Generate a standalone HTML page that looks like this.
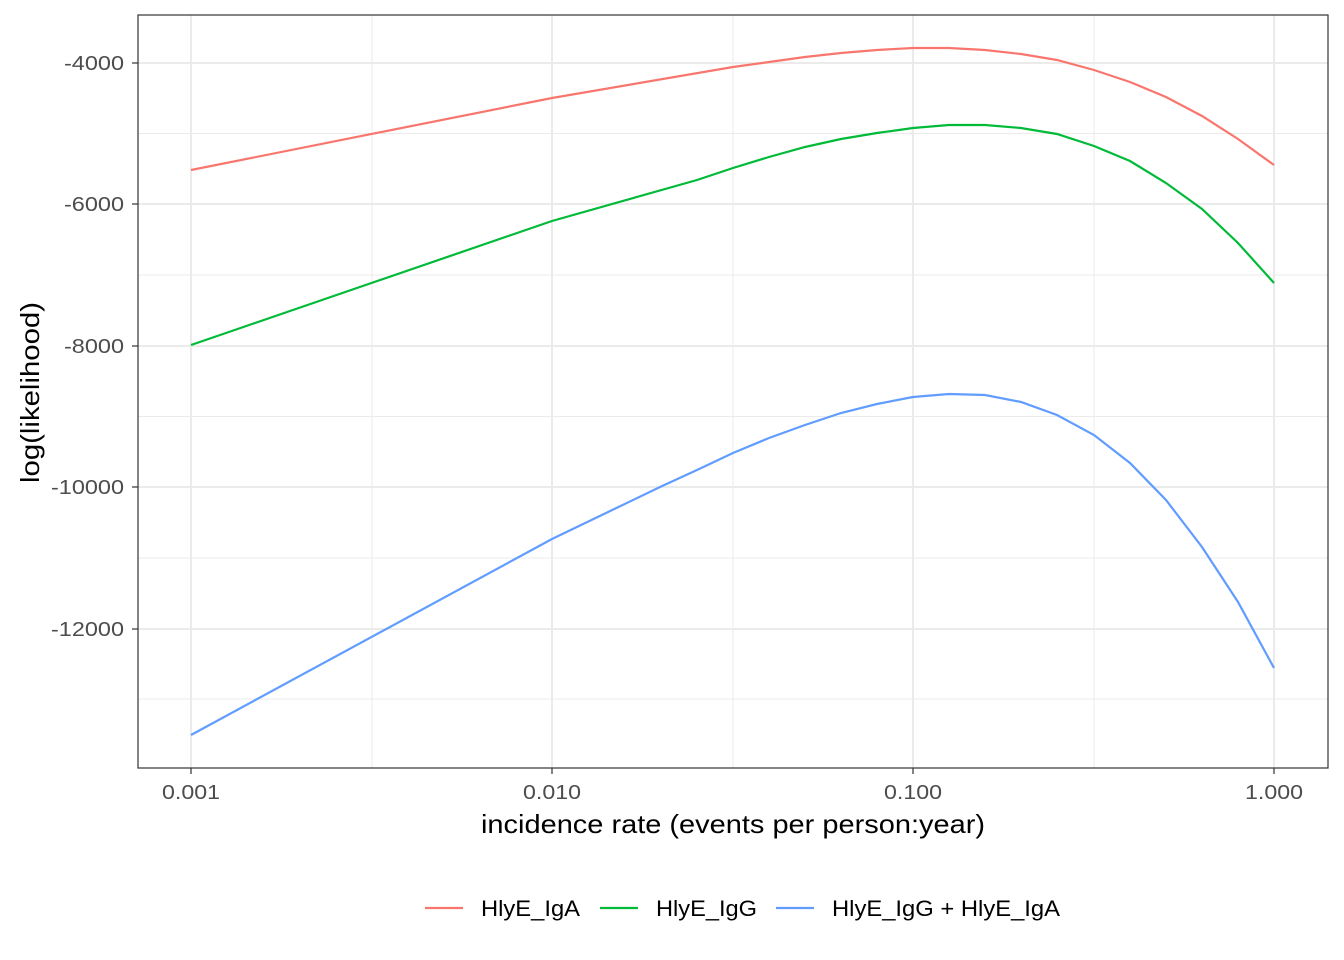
<!DOCTYPE html>
<html><head><style>body{margin:0;background:#fff}svg{display:block}</style></head><body>
<svg width="1344" height="960" xmlns="http://www.w3.org/2000/svg" font-family="Liberation Sans, sans-serif">
<rect width="1344" height="960" fill="#fff"/>
<g stroke="#ebebeb" stroke-width="1">
<line x1="138" x2="1328" y1="133.5" y2="133.5"/><line x1="138" x2="1328" y1="275" y2="275"/><line x1="138" x2="1328" y1="416.5" y2="416.5"/><line x1="138" x2="1328" y1="558" y2="558"/><line x1="138" x2="1328" y1="699" y2="699"/>
<line y1="15" y2="768" x1="372" x2="372"/><line y1="15" y2="768" x1="733" x2="733"/><line y1="15" y2="768" x1="1094" x2="1094"/>
</g>
<g stroke="#ebebeb" stroke-width="2">
<line x1="138" x2="1328" y1="63" y2="63"/><line x1="138" x2="1328" y1="204" y2="204"/><line x1="138" x2="1328" y1="346" y2="346"/><line x1="138" x2="1328" y1="487" y2="487"/><line x1="138" x2="1328" y1="629" y2="629"/>
<line y1="15" y2="768" x1="191" x2="191"/><line y1="15" y2="768" x1="552" x2="552"/><line y1="15" y2="768" x1="913" x2="913"/><line y1="15" y2="768" x1="1274" x2="1274"/>
</g>
<g fill="none" stroke-width="2.2">
<polyline stroke="#F8766D" points="191,170 552,98 733,67 769,62 805,57 841,53 877,50 913,48 949,48 985,50 1021,54 1057,60 1094,70 1130,82 1166,97 1202,116 1238,139 1274,165"/>
<polyline stroke="#00BA38" points="191,345 552,221 697,180 733,168 769,157 805,147 841,139 877,133 913,128 949,125 985,125 1021,128 1057,134 1094,146 1130,161 1166,183 1202,209 1238,243 1274,283"/>
<polyline stroke="#619CFF" points="191,735 552,539 660,487 697,470 733,453 769,438 805,425 841,413 877,404 913,397 949,394 985,395 1021,402 1057,415 1094,435 1130,463 1166,500 1202,547 1238,602 1274,668"/>
</g>
<rect x="138" y="15" width="1190" height="753" fill="none" stroke="#333" stroke-width="1.2"/>
<g stroke="#333" stroke-width="1.2">
<line x1="132" x2="138" y1="63" y2="63"/><line x1="132" x2="138" y1="204" y2="204"/><line x1="132" x2="138" y1="346" y2="346"/><line x1="132" x2="138" y1="487" y2="487"/><line x1="132" x2="138" y1="629" y2="629"/>
<line y1="768" y2="774" x1="191" x2="191"/><line y1="768" y2="774" x1="552" x2="552"/><line y1="768" y2="774" x1="913" x2="913"/><line y1="768" y2="774" x1="1274" x2="1274"/>
</g>
<g font-size="20" fill="#4d4d4d" text-anchor="end" lengthAdjust="spacingAndGlyphs">
<text x="124" y="70" textLength="60" lengthAdjust="spacingAndGlyphs">-4000</text><text x="124" y="211" textLength="60" lengthAdjust="spacingAndGlyphs">-6000</text><text x="124" y="353" textLength="60" lengthAdjust="spacingAndGlyphs">-8000</text><text x="124" y="494" textLength="73" lengthAdjust="spacingAndGlyphs">-10000</text><text x="124" y="636" textLength="73" lengthAdjust="spacingAndGlyphs">-12000</text>
</g>
<g font-size="20" fill="#4d4d4d">
<text x="162" y="799" textLength="58" lengthAdjust="spacingAndGlyphs">0.001</text><text x="523" y="799" textLength="58" lengthAdjust="spacingAndGlyphs">0.010</text><text x="884" y="799" textLength="58" lengthAdjust="spacingAndGlyphs">0.100</text><text x="1245" y="799" textLength="58" lengthAdjust="spacingAndGlyphs">1.000</text>
</g>
<text x="481" y="833" font-size="26" fill="#000" textLength="504" lengthAdjust="spacingAndGlyphs">incidence rate (events per person:year)</text>
<text transform="translate(39,483) rotate(-90)" font-size="26" fill="#000" textLength="181" lengthAdjust="spacingAndGlyphs">log(likelihood)</text>
<g stroke-width="2.2">
<line x1="425" x2="463" y1="908" y2="908" stroke="#F8766D"/>
<line x1="600" x2="638" y1="908" y2="908" stroke="#00BA38"/>
<line x1="776" x2="814" y1="908" y2="908" stroke="#619CFF"/>
</g>
<g font-size="22" fill="#000">
<text x="481" y="916" textLength="99" lengthAdjust="spacingAndGlyphs">HlyE_IgA</text><text x="656" y="916" textLength="101" lengthAdjust="spacingAndGlyphs">HlyE_IgG</text><text x="832" y="916" textLength="228" lengthAdjust="spacingAndGlyphs">HlyE_IgG + HlyE_IgA</text>
</g>
</svg>
</body></html>
